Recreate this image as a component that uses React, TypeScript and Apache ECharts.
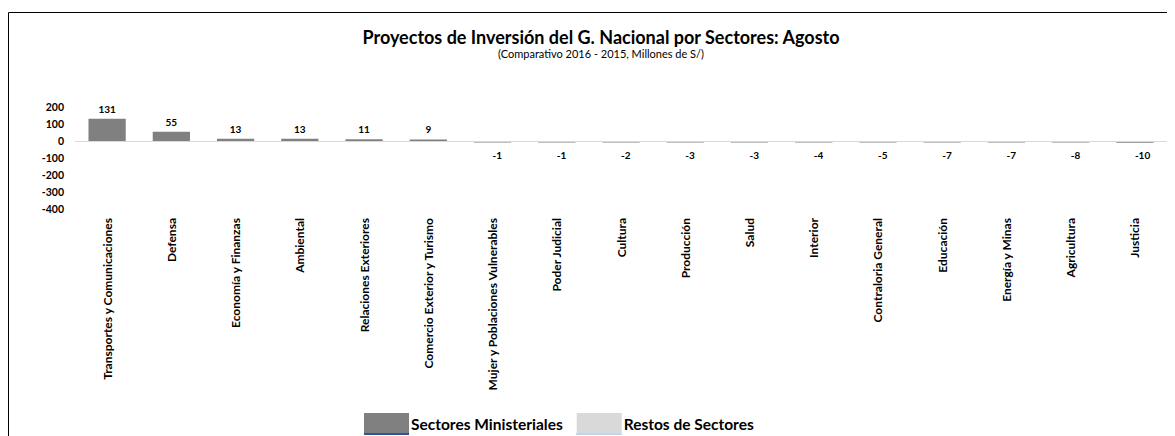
import React, { useEffect, useRef } from "react";
import * as echarts from "echarts";

const titleText = "Proyectos de Inversión del G. Nacional por Sectores: Agosto";
const subtitleText = "(Comparativo 2016 - 2015, Millones de S/)";

const categories = [
  "Transportes y Comunicaciones",
  "Defensa",
  "Economía y Finanzas",
  "Ambiental",
  "Relaciones Exteriores",
  "Comercio Exterior y Turismo",
  "Mujer y Poblaciones Vulnerables",
  "Poder Judicial",
  "Cultura",
  "Producción",
  "Salud",
  "Interior",
  "Contraloria General",
  "Educación",
  "Energía y Minas",
  "Agricultura",
  "Justicia",
];

const ministerialValues = [131, 55, 13, 13, 11, 9, -1, -1, -2, -3, -3, -4, -5, -7, -7, -8, -10];
const restValues: (number | null)[] = [];

const seriesNames = ["Sectores Ministeriales", "Restos de Sectores"];
const yMin = -400;
const yMax = 200;
const yInterval = 100;

const FONT = "Lato, 'Open Sans', sans-serif";

export default function App() {
  const ref = useRef<HTMLDivElement>(null);
  useEffect(() => {
    if (!ref.current) return;
    const chart = echarts.init(ref.current, undefined, { renderer: "svg" });
    chart.setOption({
      animation: false,
      backgroundColor: "#ffffff",
      textStyle: { fontFamily: FONT },
      title: [
        {
          text: titleText,
          left: 593,
          textAlign: "center",
          top: 20,
          padding: 0,
          textStyle: { fontFamily: FONT, fontSize: 18, fontWeight: "bold", color: "#000", lineHeight: 18 },
        },
        {
          text: subtitleText,
          left: 593,
          textAlign: "center",
          top: 40,
          padding: 0,
          textStyle: { fontFamily: FONT, fontSize: 11, fontWeight: "normal", color: "#000", lineHeight: 11 },
        },
      ],
      legend: {
        left: 351,
        top: 400,
        itemWidth: 45,
        itemHeight: 22,
        itemGap: 14,
        icon: "rect",
        data: seriesNames,
        textStyle: { fontFamily: FONT, fontSize: 15.5, fontWeight: "bold", color: "#000", padding: [0, 0, 0, -3] },
      },
      grid: { left: 67, top: 99, width: 1092, height: 102, containLabel: false },
      xAxis: {
        type: "category",
        data: categories,
        axisLine: { show: false, onZero: false },
        axisTick: { show: false },
        axisLabel: {
          interval: 0,
          rotate: 90,
          margin: 9,
          fontFamily: FONT,
          fontSize: 12,
          fontWeight: "bold",
          color: "#000",
        },
      },
      yAxis: {
        type: "value",
        min: yMin,
        max: yMax,
        interval: yInterval,
        axisLine: { show: false },
        axisTick: { show: false },
        splitLine: { show: false },
        axisLabel: { fontFamily: FONT, fontSize: 10.5, fontWeight: "bold", color: "#000", margin: 11 },
      },
      series: [
        {
          name: seriesNames[0],
          type: "bar",
          data: ministerialValues,
          barWidth: "58%",
          barGap: "-100%",
          barMinHeight: 1.5,
          itemStyle: { color: "#808080" },
          label: {
            show: true,
            fontFamily: FONT,
            fontSize: 10,
            fontWeight: "bold",
            color: "#000",
            position: "top",
            distance: 5,
          },
          labelLayout: (params: any) => {
            const idx = params.dataIndex;
            if (ministerialValues[idx] < 0) {
              return { y: params.rect.y + params.rect.height + 12, verticalAlign: "middle" };
            }
            return {};
          },
          markLine: {
            silent: true,
            symbol: "none",
            label: { show: false },
            lineStyle: { color: "#d9d9d9", width: 1, type: "solid" },
            data: [{ yAxis: 0 }],
          },
          z: 3,
        },
        {
          name: seriesNames[1],
          type: "bar",
          data: restValues,
          barWidth: "58%",
          itemStyle: { color: "#d9d9d9" },
        },
      ],
      graphic: [
        {
          type: "rect",
          silent: true,
          shape: { x: 0.5, y: 4.5, width: 1400, height: 800 },
          style: { fill: "none", stroke: "#000", lineWidth: 1 },
          z: -10,
        },
        {
          type: "line",
          silent: true,
          shape: { x1: 356, y1: 426, x2: 401, y2: 426 },
          style: { stroke: "#2f5597", lineWidth: 2 },
          z: 10,
        },
        {
          type: "line",
          silent: true,
          shape: { x1: 568, y1: 426, x2: 613, y2: 426 },
          style: { stroke: "#bdd7ee", lineWidth: 2 },
          z: 10,
        },
      ],
    });
    return () => chart.dispose();
  }, []);
  return <div ref={ref} style={{ width: 1167, height: 428 }} />;
}
